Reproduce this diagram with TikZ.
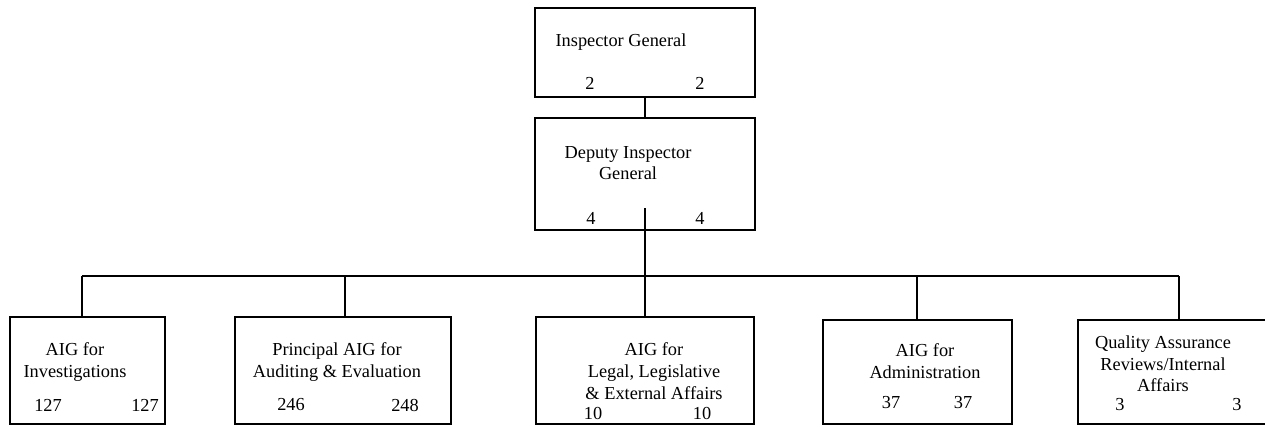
\documentclass[tikz,border=0pt]{standalone}
\usepackage{fontspec}
\setmainfont{Liberation Serif}

\begin{document}
\begin{tikzpicture}[x=0.6pt,y=-0.6pt]
    \tikzset{
        box/.style={draw, line width=1.5pt, inner sep=0pt},
        lbl/.style={inner sep=0pt, align=center, font=\fontsize{11}{13}\selectfont},
        num/.style={inner sep=0pt, font=\fontsize{11}{13}\selectfont},
        conn/.style={line width=1.1pt}
    }
    \path[use as bounding box, clip] (0,0) rectangle (1265,426);

    % boxes
    \node[box, minimum width=132pt, minimum height=53.4pt] (ig)  at (645,52.5) {};
    \node[box, minimum width=132pt, minimum height=67.2pt] (dig) at (645,174) {};
    \node[box, minimum width=93pt,    minimum height=64.2pt] (inv) at (87.5,370.5) {};
    \node[box, minimum width=129.6pt, minimum height=64.2pt] (aud) at (343,370.5) {};
    \node[box, minimum width=130.8pt, minimum height=64.2pt] (leg) at (645,370.5) {};
    \node[box, minimum width=113.4pt, minimum height=62.4pt] (adm) at (917.5,372) {};
    \node[box, minimum width=138pt,   minimum height=62.4pt] (qa)  at (1193,372) {};

    % texts
    \node[lbl] (ig-t)  at (621,42)   {Inspector General};
    \node[num] (ig-a)  at (590,83)   {2};
    \node[num] (ig-b)  at (700,83)   {2};
    \node[lbl] (dig-t) at (628,163)  {Deputy Inspector\\General};
    \node[num] (dig-a) at (591,218)  {4};
    \node[num] (dig-b) at (700,218)  {4};
    \node[lbl] (inv-t) at (75,362)   {AIG for\\Investigations};
    \node[num] (inv-a) at (48,405)   {127};
    \node[num] (inv-b) at (145,405)  {127};
    \node[lbl] (aud-t) at (337,362)  {Principal AIG for\\Auditing \& Evaluation};
    \node[num] (aud-a) at (291,405)  {246};
    \node[num] (aud-b) at (405,405)  {248};
    \node[lbl] (leg-t) at (654,371)  {AIG for\\Legal, Legislative\\\& External Affairs};
    \node[num] (leg-a) at (593,413)  {10};
    \node[num] (leg-b) at (702,413)  {10};
    \node[lbl] (adm-t) at (925,361)  {AIG for\\Administration};
    \node[num] (adm-a) at (891,403)  {37};
    \node[num] (adm-b) at (963,403)  {37};
    \node[lbl] (qa-t)  at (1163,364) {Quality Assurance\\Reviews/Internal\\Affairs};
    \node[num] (qa-a)  at (1120,405) {3};
    \node[num] (qa-b)  at (1237,405) {3};

    % connectors
    \coordinate (dstem) at (645,208);
    \coordinate (busW) at (82,276);
    \coordinate (busE) at (1179,276);
    \draw[conn] (ig) -- (dig);
    \draw[conn] (dstem) -- (dstem |- busW);
    \draw[conn] (busW) -- (busE);
    \foreach \b/\x in {inv/82, aud/345, leg/645, adm/917, qa/1179}
        \draw[conn] (\x,276) -- (\x,276 |- \b.north);
\end{tikzpicture}
\end{document}
